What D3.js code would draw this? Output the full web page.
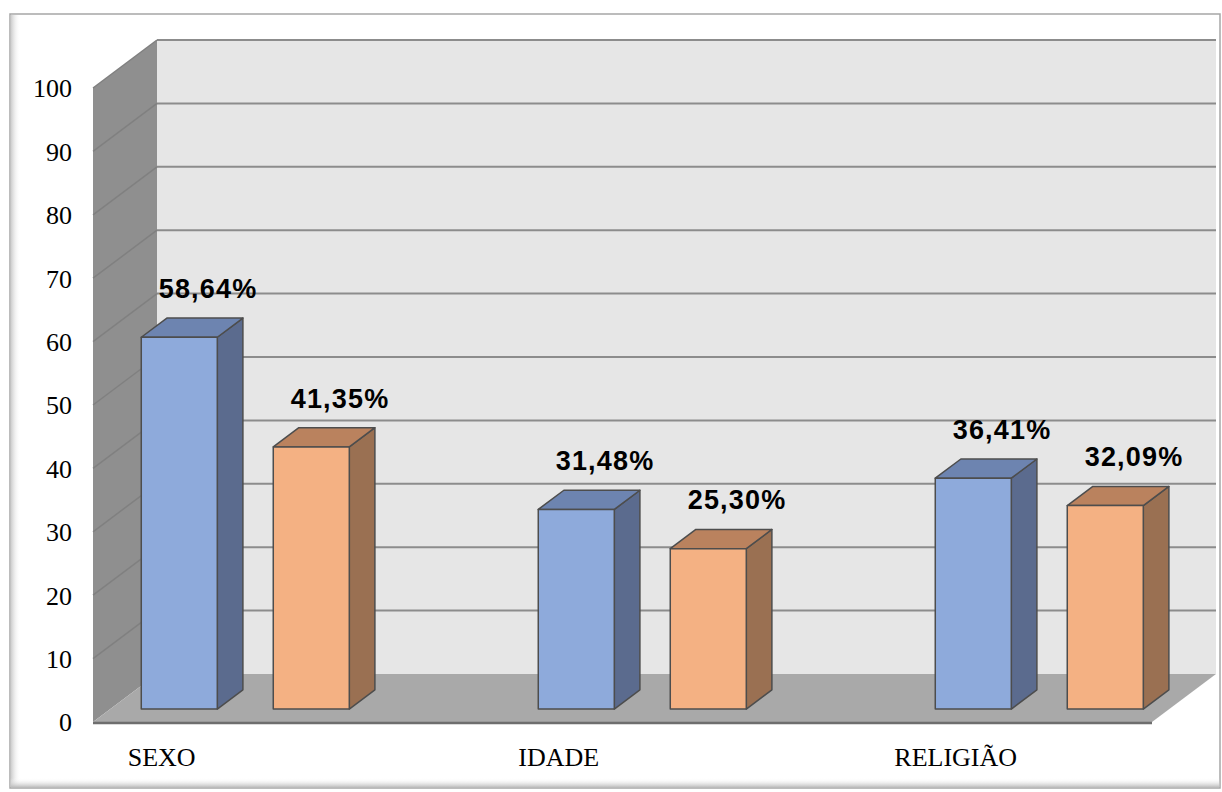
<!DOCTYPE html>
<html>
<head>
<meta charset="utf-8">
<script src="https://cdn.jsdelivr.net/npm/d3@7"></script>
<style>
  html, body { margin: 0; padding: 0; background: #fff; }
</style>
</head>
<body>
<div id="chart"></div>
<script>
const categories = ['SEXO', 'IDADE', 'RELIGIÃO'];
const seriesA = [58.64, 31.48, 36.41];
const seriesB = [41.35, 25.30, 32.09];
const yTicks = [0, 10, 20, 30, 40, 50, 60, 70, 80, 90, 100];

const width = 1222, height = 792;
const depthX = 64, depthY = 48;       // wall depth offset
const barZ0 = 0.27, barZ1 = 0.67;     // bar front/back depth fraction

const svg = d3.select('#chart').append('svg')
    .attr('width', width)
    .attr('height', height);

const defs = svg.append('defs');
const shL = defs.append('linearGradient').attr('id', 'shL').attr('x1', 0).attr('x2', 1);
shL.append('stop').attr('offset', 0).attr('stop-color', '#c8c8c8');
shL.append('stop').attr('offset', 1).attr('stop-color', '#fff').attr('stop-opacity', 0);
const shB = defs.append('linearGradient').attr('id', 'shB').attr('x1', 0).attr('x2', 0).attr('y1', 1).attr('y2', 0);
shB.append('stop').attr('offset', 0).attr('stop-color', '#b8b8b8');
shB.append('stop').attr('offset', 1).attr('stop-color', '#fff').attr('stop-opacity', 0);

// outer frame
svg.append('rect').attr('x', 10).attr('y', 14).attr('width', 1210).attr('height', 774)
    .attr('fill', '#fff').attr('stroke', '#a6a6a6').attr('stroke-width', 1.5);
svg.append('rect').attr('x', 10.5).attr('y', 15).attr('width', 10).attr('height', 772).attr('fill', 'url(#shL)');
svg.append('rect').attr('x', 10.5).attr('y', 778).attr('width', 1209).attr('height', 9.5).attr('fill', 'url(#shB)');

const y = d3.scaleLinear().domain([0, 100]).range([722, 88]);
const xLeft = 93, xRight = 1152;

const x = d3.scaleBand().domain(categories).range([29.5, 1220.5]);
const inner = d3.scaleBand().domain([0, 1])
    .range([x.bandwidth() * 0.238, x.bandwidth() * 0.762])
    .paddingInner(0.424);

const P = (px, v, z) => [px + z * depthX, y(v) - z * depthY];
const poly = pts => 'M' + pts.map(p => p.join(',')).join('L') + 'Z';

const g = svg.append('g');

// back wall
g.append('path')
    .attr('d', poly([P(xLeft, 0, 1), P(xRight, 0, 1), P(xRight, 100, 1), P(xLeft, 100, 1)]))
    .attr('fill', '#e6e6e6');

// left wall
g.append('path')
    .attr('d', poly([P(xLeft, 0, 0), P(xLeft, 0, 1), P(xLeft, 100, 1), P(xLeft, 100, 0)]))
    .attr('fill', '#8f8f8f');

// gridlines
yTicks.forEach(t => {
    if (t === 0) return;
    g.append('line')
        .attr('x1', P(xLeft, t, 1)[0]).attr('y1', P(xLeft, t, 1)[1])
        .attr('x2', P(xRight, t, 1)[0]).attr('y2', P(xRight, t, 1)[1])
        .attr('stroke', '#8c8c8c').attr('stroke-width', 2);
    g.append('line')
        .attr('x1', P(xLeft, t, 0)[0]).attr('y1', P(xLeft, t, 0)[1])
        .attr('x2', P(xLeft, t, 1)[0]).attr('y2', P(xLeft, t, 1)[1])
        .attr('stroke', '#808080').attr('stroke-width', 1.5);
});

// floor
g.append('path')
    .attr('d', poly([P(xLeft, 0, 0), P(xRight, 0, 0), P(xRight, 0, 1), P(xLeft, 0, 1)]))
    .attr('fill', '#a9a9a9');
g.append('line')
    .attr('x1', xLeft).attr('y1', y(0) + 1).attr('x2', xRight).attr('y2', y(0) + 1)
    .attr('stroke', '#6e6e6e').attr('stroke-width', 2.5);

// y axis labels
svg.append('g').selectAll('text')
    .data(yTicks)
    .join('text')
    .attr('x', 72)
    .attr('y', d => y(d))
    .attr('dy', '0.36em')
    .attr('text-anchor', 'end')
    .style('font-family', '"Liberation Serif", "Times New Roman", serif')
    .style('font-size', '26px')
    .attr('fill', '#000')
    .text(d => d);

// bars
const styles = [
    { front: '#8eaadb', side: '#5b6b8e', top: '#6d84b0' },
    { front: '#f4b183', side: '#9a7052', top: '#ba825e' }
];

const bars = [];
categories.forEach((c, i) => {
    [seriesA[i], seriesB[i]].forEach((v, s) => {
        bars.push({ cat: c, s: s, v: v, x0: x(c) + inner(s), w: inner.bandwidth() });
    });
});

const barG = g.append('g').selectAll('g')
    .data(bars)
    .join('g');

barG.append('path')
    .attr('d', d => poly([P(d.x0 + d.w, 0, barZ0), P(d.x0 + d.w, 0, barZ1), P(d.x0 + d.w, d.v, barZ1), P(d.x0 + d.w, d.v, barZ0)]))
    .attr('fill', d => styles[d.s].side)
    .attr('stroke', '#4d4d4d').attr('stroke-width', 1.5).attr('stroke-linejoin', 'round');

barG.append('path')
    .attr('d', d => poly([P(d.x0, d.v, barZ0), P(d.x0 + d.w, d.v, barZ0), P(d.x0 + d.w, d.v, barZ1), P(d.x0, d.v, barZ1)]))
    .attr('fill', d => styles[d.s].top)
    .attr('stroke', '#4d4d4d').attr('stroke-width', 1.5).attr('stroke-linejoin', 'round');

barG.append('path')
    .attr('d', d => poly([P(d.x0, 0, barZ0), P(d.x0 + d.w, 0, barZ0), P(d.x0 + d.w, d.v, barZ0), P(d.x0, d.v, barZ0)]))
    .attr('fill', d => styles[d.s].front)
    .attr('stroke', '#4d4d4d').attr('stroke-width', 1.5).attr('stroke-linejoin', 'round');

// value labels
const fmt = v => d3.format('.2f')(v).replace('.', ',') + '%';
barG.append('text')
    .attr('x', d => (P(d.x0, 0, barZ0)[0] + P(d.x0 + d.w, 0, barZ1)[0]) / 2 + 16)
    .attr('y', d => P(d.x0, d.v, barZ1)[1] - 20)
    .attr('text-anchor', 'middle')
    .style('font-family', '"Liberation Sans", Arial, sans-serif')
    .style('font-weight', 'bold')
    .style('font-size', '27px')
    .style('letter-spacing', '1.2px')
    .attr('fill', '#000')
    .text(d => fmt(d.v));

// category labels
svg.append('g').selectAll('text')
    .data(categories)
    .join('text')
    .attr('x', d => x(d) + x.bandwidth() * 0.333)
    .attr('y', 766)
    .attr('text-anchor', 'middle')
    .style('font-family', '"Liberation Serif", "Times New Roman", serif')
    .style('font-size', '26px')
    .attr('fill', '#000')
    .text(d => d);
</script>
</body>
</html>
